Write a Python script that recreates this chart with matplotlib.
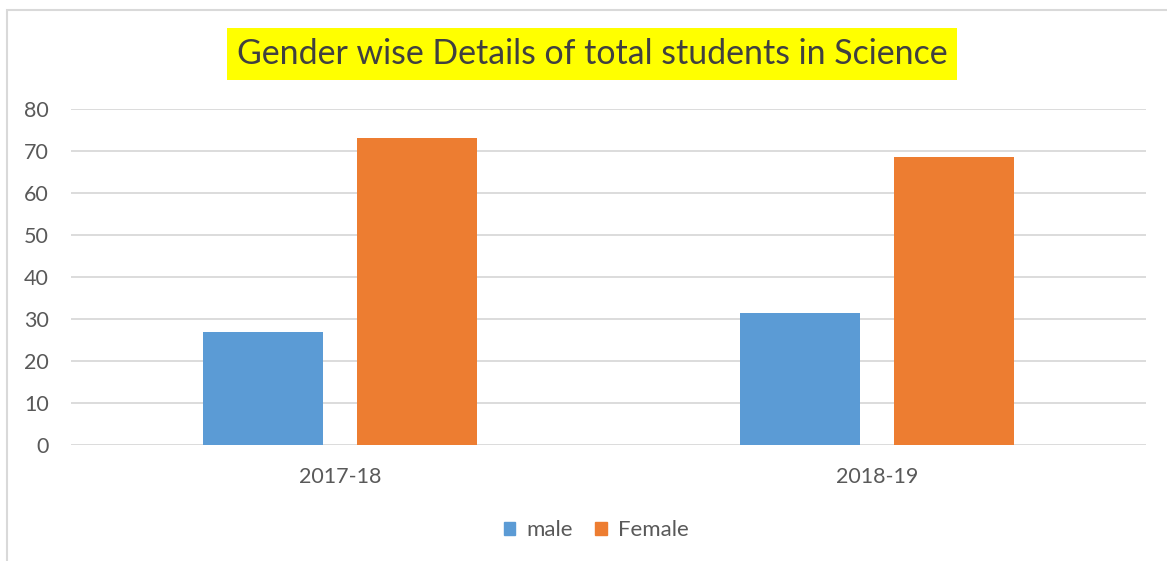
import matplotlib
matplotlib.use("Agg")
import matplotlib.pyplot as plt
from matplotlib.patches import Rectangle, Patch
import numpy as np

categories = ["2017-18", "2018-19"]
male = [27, 31.5]
female = [73, 68.5]
yticks = [0, 10, 20, 30, 40, 50, 60, 70, 80]

W, H = 1167, 561
fig = plt.figure(figsize=(W/100, H/100), dpi=100)
plt.rcParams['font.family'] = ['Lato', 'DejaVu Sans']

ax = fig.add_axes([71/W, 1-445/H, (1146-71)/W, (445-109)/H])
x = np.arange(len(categories))
bw = 0.223
off = 0.143
ax.bar(x - off, male, bw, color='#5b9bd5', label='male', zorder=3)
ax.bar(x + off, female, bw, color='#ed7d31', label='Female', zorder=3)
ax.set_xlim(-0.5, 1.5)
ax.set_ylim(0, 80)
ax.set_yticks(yticks)
ax.yaxis.grid(True, color='#d9d9d9', linewidth=1.3, zorder=0)
for s in ax.spines.values():
    s.set_visible(False)
ax.tick_params(axis='both', length=0, labelsize=15.5, colors='#595959')
ax.tick_params(axis='y', pad=16)
ax.tick_params(axis='x', pad=16)
ax.set_xticks(x)
ax.set_xticklabels(categories)

fig.text(592/W, 1-54/H, "Gender wise Details of total students in Science",
         ha='center', va='center', fontsize=24.4, color='#404040',
         bbox=dict(facecolor='#ffff00', edgecolor='none', pad=7))

handles = [Patch(color='#5b9bd5', label='male'), Patch(color='#ed7d31', label='Female')]
leg = fig.legend(handles=handles, loc='center', bbox_to_anchor=(596/W, 1-530/H), ncol=2,
                 frameon=False, fontsize=16, handlelength=0.52, handleheight=0.52,
                 handletextpad=0.5, columnspacing=1.0, labelcolor='#595959')

fig.patches.append(Rectangle((7/W, -0.1), 1.2, 1-10/H+0.1, transform=fig.transFigure,
                             fill=False, edgecolor='#d9d9d9', linewidth=1.5))

fig.savefig("out.png", dpi=100)
